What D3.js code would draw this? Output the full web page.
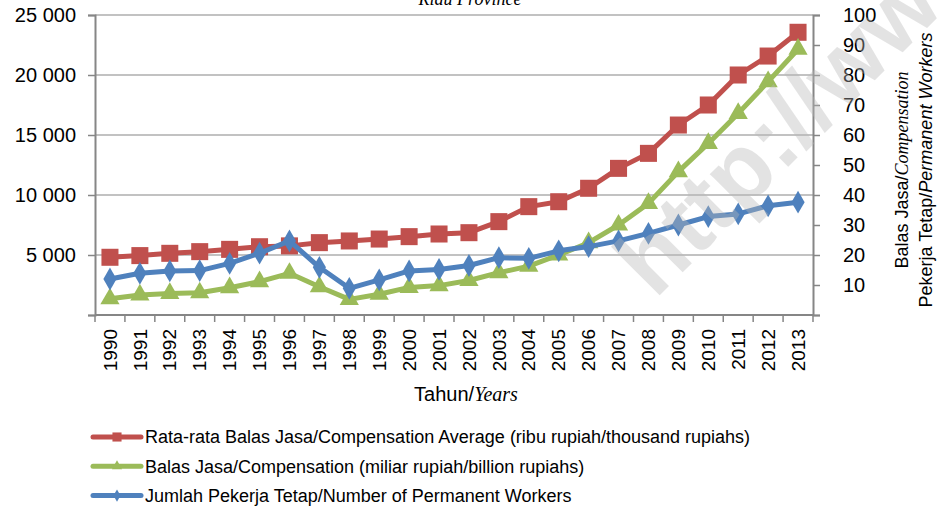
<!DOCTYPE html>
<html>
<head>
<meta charset="utf-8">
<script src="https://cdn.jsdelivr.net/npm/d3@7"></script>
<style>
    body { margin: 0; background: #fff; }
    svg { display: block; font-family: "Liberation Sans", Arial, sans-serif; }
    .serif { font-family: "Liberation Serif", "Times New Roman", serif; font-style: italic; }
</style>
</head>
<body>
<svg id="chart" width="946" height="509"></svg>
<script>
    // data
    var years = ["1990","1991","1992","1993","1994","1995","1996","1997","1998","1999","2000","2001",
                 "2002","2003","2004","2005","2006","2007","2008","2009","2010","2011","2012","2013"];
    // left axis: ribu rupiah
    var avgCompensation = [4810,4950,5140,5280,5470,5690,5760,6030,6170,6330,6530,6750,
                           6860,7780,9030,9440,10560,12220,13470,15830,17500,20000,21580,23560];
    // right axis
    var compensation = [5.4,6.7,7.2,7.4,9.1,11.1,13.9,9.4,5.2,6.9,9.2,9.8,
                        11.5,14.1,16.3,20.0,24.1,30.0,37.2,47.8,57.2,67.2,77.8,88.6];
    var workers = [12.0,13.9,14.7,14.8,17.2,20.6,24.7,15.9,8.9,11.7,14.7,15.2,
                   16.5,19.1,18.9,21.4,22.8,24.7,27.2,30.0,32.8,33.7,36.4,37.6];
    var leftTicks = [0,5000,10000,15000,20000,25000];
    var rightTicks = [0,10,20,30,40,50,60,70,80,90,100];
    var legendLabels = [
        "Rata-rata Balas Jasa/Compensation Average (ribu rupiah/thousand rupiahs)",
        "Balas Jasa/Compensation (miliar rupiah/billion rupiahs)",
        "Jumlah Pekerja Tetap/Number of Permanent Workers"
    ];

    var svg = d3.select("#chart");
    var plot = {left: 95, right: 813, top: 15, bottom: 315};
    var gray = "#868686";

    var x = d3.scaleBand().domain(years).range([plot.left, plot.right]).padding(0);
    var yL = d3.scaleLinear().domain([0, 25000]).range([plot.bottom, plot.top]);
    var yR = d3.scaleLinear().domain([0, 100]).range([plot.bottom, plot.top]);
    var fmt = function(v) { return d3.format(",")(v).replace(/,/g, " "); };

    // title (clipped at top)
    svg.append("text").attr("class", "serif")
        .attr("x", 470).attr("y", 5).attr("text-anchor", "middle")
        .attr("font-size", 18).text("Riau Province");

    // gridlines
    svg.append("g").selectAll("line").data(leftTicks.slice(1)).enter().append("line")
        .attr("x1", plot.left).attr("x2", plot.right)
        .attr("y1", function(d) { return yL(d); }).attr("y2", function(d) { return yL(d); })
        .attr("stroke", gray).attr("stroke-width", 1.2);

    // left axis
    var gl = svg.append("g").attr("transform", "translate(" + plot.left + ",0)")
        .call(d3.axisLeft(yL).tickValues(leftTicks).tickSize(7).tickPadding(12)
            .tickFormat(function(d) { return d === 0 ? "" : fmt(d); }));
    // right axis
    var gr = svg.append("g").attr("transform", "translate(" + plot.right + ",0)")
        .call(d3.axisRight(yR).tickValues(rightTicks).tickSize(7).tickPadding(23)
            .tickFormat(function(d) { return d === 0 ? "" : d; }));
    [gl, gr].forEach(function(g) {
        g.select(".domain").attr("stroke", gray).attr("stroke-width", 2);
        g.selectAll(".tick line").attr("stroke", gray).attr("stroke-width", 1.5);
        g.selectAll("text").attr("font-size", 20).attr("fill", "#000")
            .attr("font-family", "Liberation Sans, Arial, sans-serif");
    });
    gr.selectAll("text").attr("text-anchor", "start").attr("x", 30);

    // bottom axis
    var gb = svg.append("g").attr("transform", "translate(0," + plot.bottom + ")");
    gb.append("line").attr("x1", plot.left).attr("x2", plot.right)
        .attr("stroke", gray).attr("stroke-width", 2);
    gb.selectAll(".tk").data(years.concat(["end"])).enter().append("line")
        .attr("x1", function(d, i) { return plot.left + i * x.bandwidth(); })
        .attr("x2", function(d, i) { return plot.left + i * x.bandwidth(); })
        .attr("y1", 0).attr("y2", 7).attr("stroke", gray).attr("stroke-width", 1.5);
    gb.selectAll(".lbl").data(years).enter().append("text")
        .attr("transform", function(d) {
            return "translate(" + (x(d) + x.bandwidth() / 2) + ",14) rotate(-90)";
        })
        .attr("text-anchor", "end").attr("dy", "0.35em")
        .attr("font-size", 19).text(function(d) { return d; });

    var xt = svg.append("text").attr("x", 466).attr("y", 401)
        .attr("text-anchor", "middle").attr("font-size", 20);
    xt.append("tspan").text("Tahun/");
    xt.append("tspan").attr("class", "serif").text("Years");

    // right axis title
    var rt = svg.append("g").attr("transform", "translate(908,170) rotate(-90)");
    var rt1 = rt.append("text").attr("text-anchor", "middle").attr("font-size", 18);
    rt1.append("tspan").text("Balas Jasa/");
    rt1.append("tspan").attr("class", "serif").text("Compensation");
    var rt2 = rt.append("text").attr("y", 24).attr("text-anchor", "middle").attr("font-size", 18);
    rt2.append("tspan").text("Pekerja Tetap/");
    rt2.append("tspan").attr("font-style", "italic").text("Permanent Workers");

    // series
    var series = [
        {values: avgCompensation, y: yL, color: "#C0504D", symbol: d3.symbolSquare, size: 290},
        {values: compensation, y: yR, color: "#9BBB59", symbol: d3.symbolTriangle, size: 160},
        {values: workers, y: yR, color: "#4F81BD", symbol: d3.symbolDiamond, size: 150}
    ];
    var cx = function(i) { return x(years[i]) + x.bandwidth() / 2; };

    series.forEach(function(s) {
        var line = d3.line().x(function(d, i) { return cx(i); }).y(function(d) { return s.y(d); });
        svg.append("path").datum(s.values).attr("d", line)
            .attr("fill", "none").attr("stroke", s.color).attr("stroke-width", 5)
            .attr("stroke-linejoin", "round");
        svg.append("g").selectAll("path").data(s.values).enter().append("path")
            .attr("d", d3.symbol().type(s.symbol).size(s.size))
            .attr("transform", function(d, i) {
                return "translate(" + cx(i) + "," + s.y(d) + ")";
            })
            .attr("fill", s.color);
    });

    // legend
    var leg = svg.append("g").selectAll("g").data(series).enter().append("g")
        .attr("transform", function(d, i) { return "translate(93," + (437 + i * 29.3) + ")"; });
    leg.append("line").attr("x1", 0).attr("x2", 48)
        .attr("stroke", function(d) { return d.color; }).attr("stroke-width", 5)
        .attr("stroke-linecap", "round");
    leg.append("path").attr("transform", "translate(24,0)")
        .attr("d", function(d) { return d3.symbol().type(d.symbol).size(d.size / 3.5)(); })
        .attr("fill", function(d) { return d.color; });
    leg.append("text").attr("x", 52).attr("dy", "0.35em").attr("font-size", 18)
        .text(function(d, i) { return legendLabels[i]; });

    // watermark
    svg.append("text").attr("transform", "translate(655,300) rotate(-45)")
        .attr("font-size", 95).attr("font-weight", "bold")
        .attr("fill", "#b8b8b8").attr("opacity", 0.38)
        .text("http://www.bps.go.id");
</script>
</body>
</html>
